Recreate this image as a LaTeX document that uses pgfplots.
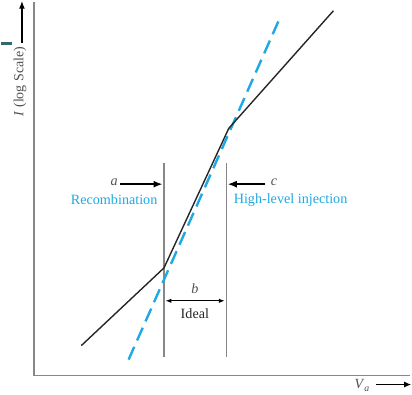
\documentclass[border=0pt]{standalone}
\usepackage{fontspec}
\setmainfont{Liberation Serif}
\usepackage{pgfplots}
\pgfplotsset{compat=1.18}
\usetikzlibrary{arrows.meta}
\definecolor{cblue}{RGB}{30,168,228}
\definecolor{axgray}{RGB}{135,135,135}
\definecolor{tgray}{RGB}{80,80,80}
\definecolor{tealbar}{RGB}{47,107,107}
\begin{document}
\begin{tikzpicture}
\begin{axis}[width=412pt,height=400pt,scale only axis,
  xmin=0,xmax=412,ymin=0,ymax=400,y dir=reverse,
  hide axis,clip=false]
% frame of the sketch
\addplot[axgray,line width=1.8pt] coordinates {(33,8) (33,383) (410,383)};
% vertical region markers
\addplot[axgray,line width=1.2pt] coordinates {(163,170) (163,364)};
\addplot[axgray,line width=1.2pt] coordinates {(225.5,170) (225.5,364)};
% ideal (dashed)
\addplot[cblue,line width=2.4pt,dash pattern=on 14pt off 7pt] coordinates {(127.5,367) (278.5,26)};
% real characteristic
\addplot[black!85,line width=1.4pt] coordinates {(80,353) (163,275) (228,135) (333,17)};
% annotations
\draw[tealbar,line width=3pt] (axis cs:0,50) -- (axis cs:10.5,50);
\draw[black,line width=1.5pt,-{Latex[length=8pt,width=6pt]}] (axis cs:20.5,49) -- (axis cs:20.5,7);
\node[rotate=90,font=\fontsize{14}{16}\selectfont,text=tgray] at (axis cs:18.5,88) {\textit{I} (log Scale)};
\node[font=\fontsize{14}{16}\selectfont,text=tgray,anchor=east] at (axis cs:373,393) {\textit{V}\textsubscript{\textit{a}}};
\draw[black,line width=1.6pt,-{Latex[length=7pt,width=6pt]}] (axis cs:376,392) -- (axis cs:411,392);
\node[font=\fontsize{14.2}{16}\selectfont\itshape,text=tgray] at (axis cs:113,189.5) {a};
\draw[black,line width=1.5pt,-{Latex[length=9pt,width=7pt]}] (axis cs:119,191) -- (axis cs:161.5,191);
\node[font=\fontsize{14.2}{16}\selectfont,text=cblue] at (axis cs:113,207) {Recombination};
\node[font=\fontsize{14.2}{16}\selectfont\itshape,text=tgray] at (axis cs:273.5,189.5) {c};
\draw[black,line width=1.5pt,-{Latex[length=9pt,width=7pt]}] (axis cs:264,191) -- (axis cs:227,191);
\node[font=\fontsize{14.2}{16}\selectfont,text=cblue] at (axis cs:290,207) {High-level injection};
\node[font=\fontsize{14.2}{16}\selectfont\itshape,text=tgray] at (axis cs:194,296) {b};
\draw[black,line width=1.1pt,{Latex[length=6pt,width=4.5pt]}-{Latex[length=6pt,width=4.5pt]}] (axis cs:164.5,308) -- (axis cs:224,308);
\node[font=\fontsize{14.2}{16}\selectfont,text=black!85] at (axis cs:194,321) {Ideal};
\end{axis}
\end{tikzpicture}
\end{document}
